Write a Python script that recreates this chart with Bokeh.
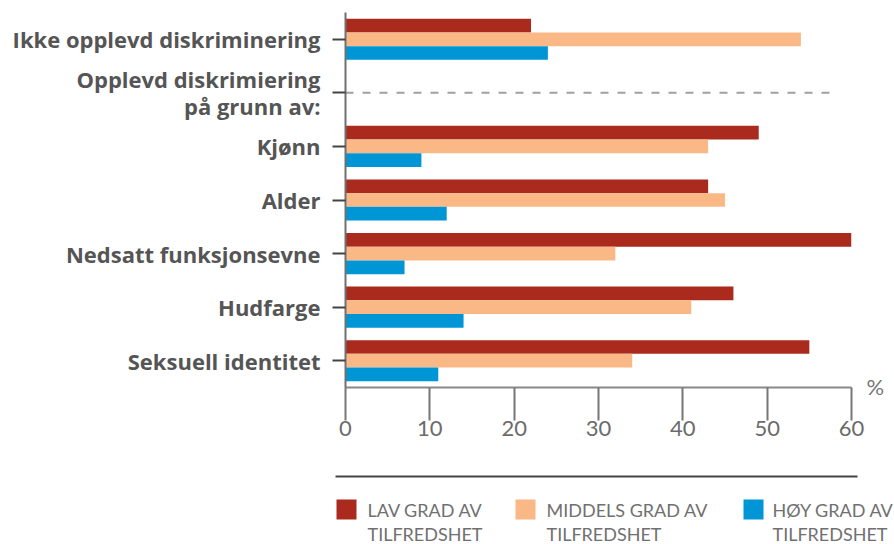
from bokeh.plotting import figure
from bokeh.models import Range1d, FixedTicker, LinearAxis
from bokeh.layouts import column
from bokeh.embed import file_html
from bokeh.resources import INLINE
from bokeh.core.properties import value

# ---- data ----
categories = ["Ikke opplevd diskriminering", "Opplevd diskrimiering\npå grunn av:",
              "Kjønn", "Alder", "Nedsatt funksjonsevne", "Hudfarge",
              "Seksuell identitet"]
cat_slots = [0, 1, 2, 3, 4, 5, 6]
slots = [0, 2, 3, 4, 5, 6]          # slots holding bars
group_slot = 1                       # header row "Opplevd ... på grunn av:"
low = [22, 49, 43, 60, 46, 55]
mid = [54, 43, 45, 32, 41, 34]
high = [24, 9, 12, 7, 14, 11]
series_line1 = ["LAV GRAD AV", "MIDDELS GRAD AV", "HØY GRAD AV"]
series_line2 = ["TILFREDSHET", "TILFREDSHET", "TILFREDSHET"]
colors = ["#aa2a1e", "#f9b886", "#0096d6"]
x_ticks = [0, 10, 20, 30, 40, 50, 60]
unit_label = "%"

LABEL_FONT = "Open Sans"
FONT = "Lato"
bar_h = 0.256

p = figure(width=894, height=460, output_backend="svg", toolbar_location=None,
           x_range=Range1d(0, 60), y_range=Range1d(6.5, -0.5),
           min_border_left=345, min_border_right=43, min_border_top=12,
           min_border_bottom=73)
p.frame_align = False
p.outline_line_color = None
p.xgrid.visible = False
p.ygrid.visible = False
p.background_fill_color = "white"
p.border_fill_color = "white"

for vals, off, col in zip([low, mid, high], [-bar_h, 0, bar_h], colors):
    p.hbar(y=[s + off for s in slots], right=vals, left=0, height=bar_h,
           fill_color=col, line_color=None)

# dashed separator under the header row
p.segment(x0=[0], x1=[58], y0=[group_slot], y1=[group_slot],
          line_color="#a0a0a0", line_width=2, line_dash="8 9")

# y axis (categories)
p.yaxis.ticker = FixedTicker(ticks=cat_slots)
p.yaxis.major_label_overrides = {s: c for s, c in zip(cat_slots, categories)}
p.yaxis.major_label_text_font = LABEL_FONT
p.yaxis.major_label_text_font_style = "bold"
p.yaxis.major_label_text_font_size = "22px"
p.yaxis.major_label_text_line_height = 0.9
p.yaxis.major_label_text_color = "#555555"
p.yaxis.major_label_standoff = 12
p.yaxis.major_tick_out = 13
p.yaxis.major_tick_in = 0
p.yaxis.major_tick_line_color = "#444444"
p.yaxis.major_tick_line_width = 2
p.yaxis.minor_tick_line_color = None
p.yaxis.axis_line_color = "#707070"
p.yaxis.axis_line_width = 2

# x axis
p.xaxis.ticker = FixedTicker(ticks=x_ticks)
p.xaxis.major_label_text_font = FONT
p.xaxis.major_label_text_font_size = "22px"
p.xaxis.major_label_text_color = "#6b6b6b"
p.xaxis.major_label_standoff = 0
p.xaxis.major_tick_out = 33
p.xaxis.major_tick_in = 0
p.xaxis.major_tick_line_color = "#777777"
p.xaxis.major_tick_line_width = 2
p.xaxis.minor_tick_line_color = None
p.xaxis.axis_line_color = "#888888"
p.xaxis.axis_line_width = 2

# "%" unit at right end of x axis
ra = LinearAxis(ticker=FixedTicker(ticks=[6.49]),
                major_label_overrides={6.49: unit_label})
ra.major_label_text_font = FONT
ra.major_label_text_font_size = "22px"
ra.major_label_text_color = "#777777"
ra.major_label_standoff = 15
ra.major_tick_out = 0
ra.major_tick_in = 0
ra.minor_tick_line_color = None
ra.axis_line_color = None
p.add_layout(ra, "right")

# ---- legend figure (below, with rule) ----
lg = figure(width=894, height=84, output_backend="svg", toolbar_location=None,
            x_range=Range1d(0, 894), y_range=Range1d(84, 0),
            x_axis_location=None, y_axis_location=None,
            min_border=0, min_border_left=0, min_border_right=0,
            min_border_top=0, min_border_bottom=0)
lg.frame_align = False
lg.outline_line_color = None
lg.grid.visible = False

lg.segment(x0=[335], x1=[857], y0=[16], y1=[16], line_color="#444444", line_width=2)
sq_left = [336, 515, 743]
txt_left = [367, 546, 772]
lg.quad(left=sq_left, right=[x + 20 for x in sq_left], top=[39] * 3, bottom=[59] * 3,
        fill_color=colors, line_color=None)
lg.text(x=txt_left, y=[49] * 3, text=series_line1, text_font=value(FONT),
        text_font_size="18px", text_color="#707070", text_baseline="alphabetic")
lg.text(x=txt_left, y=[73] * 3, text=series_line2, text_font=value(FONT),
        text_font_size="18px", text_color="#707070", text_baseline="alphabetic")

layout = column(p, lg)
open("out.html", "w").write(file_html(layout, INLINE))
